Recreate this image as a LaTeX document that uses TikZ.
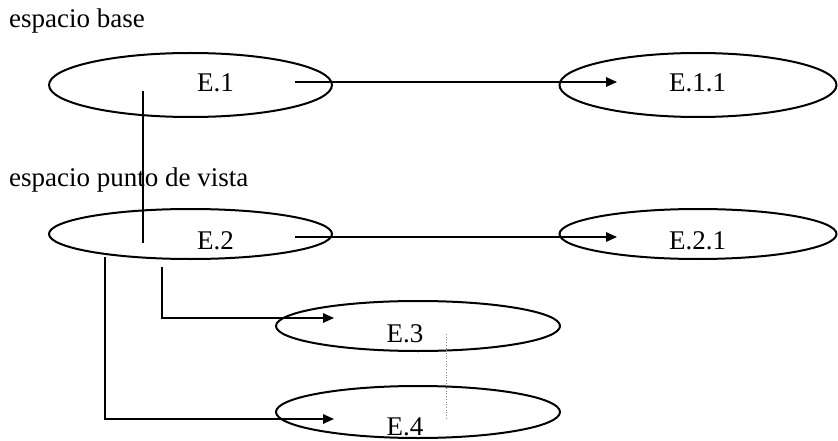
\documentclass[tikz,border=0pt]{standalone}
\usepackage{fontspec}
\setmainfont{Liberation Serif}
\usetikzlibrary{shapes.geometric,arrows.meta}
\begin{document}
\begin{tikzpicture}[x=1pt,y=-1pt,
  oval/.style={draw,ellipse,line width=2pt,inner sep=0pt},
  lbl/.style={font=\fontsize{27}{31}\selectfont,inner sep=0pt,anchor=base},
  side/.style={font=\fontsize{27}{31}\selectfont,inner sep=0pt,anchor=base west},
  arr/.style={line width=1.6pt,-{Triangle[length=11pt,width=9.5pt]}},
  link/.style={line width=2pt}]
\useasboundingbox (0,0) rectangle (838,441);
% ovals
\node[oval,minimum width=283pt,minimum height=64pt] (e1) at (190.5,85) {};
\node[oval,minimum width=277pt,minimum height=64pt] (e11) at (698,85) {};
\node[oval,minimum width=283pt,minimum height=50pt] (e2) at (190.5,234) {};
\node[oval,minimum width=277pt,minimum height=50pt] (e21) at (698,234) {};
\node[oval,minimum width=284pt,minimum height=50pt] (e3) at (418,326) {};
\node[oval,minimum width=284pt,minimum height=52pt] (e4) at (418,412) {};
% texts
\node[lbl] (t1) at (215.5,92) {E.1};
\node[lbl] (t11) at (697.5,92) {E.1.1};
\node[lbl] (t2) at (215.5,249) {E.2};
\node[lbl] (t21) at (697.5,249) {E.2.1};
\node[lbl] (t3) at (405,342) {E.3};
\node[lbl] (t4) at (405,435) {E.4};
\node[side] (sb) at (9,28) {espacio base};
\node[side] (sp) at (9,186) {espacio punto de vista};
% connector endpoints
\coordinate (a1s) at (295,82);
\coordinate (a1e) at (617,82);
\coordinate (a2s) at (295,237);
\coordinate (a2e) at (617,237);
\coordinate (vs) at (143,91);
\coordinate (ve) at (143,243);
\coordinate (b3s) at (162,267);
\coordinate (b3e) at (334,318);
\coordinate (b4s) at (105,257);
\coordinate (b4e) at (334,419);
\coordinate (ds) at (446,334);
\coordinate (de) at (446,418);
% connectors
\draw[arr] (a1s) -- (a1e);
\draw[arr] (a2s) -- (a2e);
\draw[link] (vs) -- (ve);
\draw[arr] (b3s) |- (b3e);
\draw[arr] (b4s) |- (b4e);
\draw[line width=0.7pt,dotted,gray] (ds) -- (de);
\end{tikzpicture}
\end{document}
